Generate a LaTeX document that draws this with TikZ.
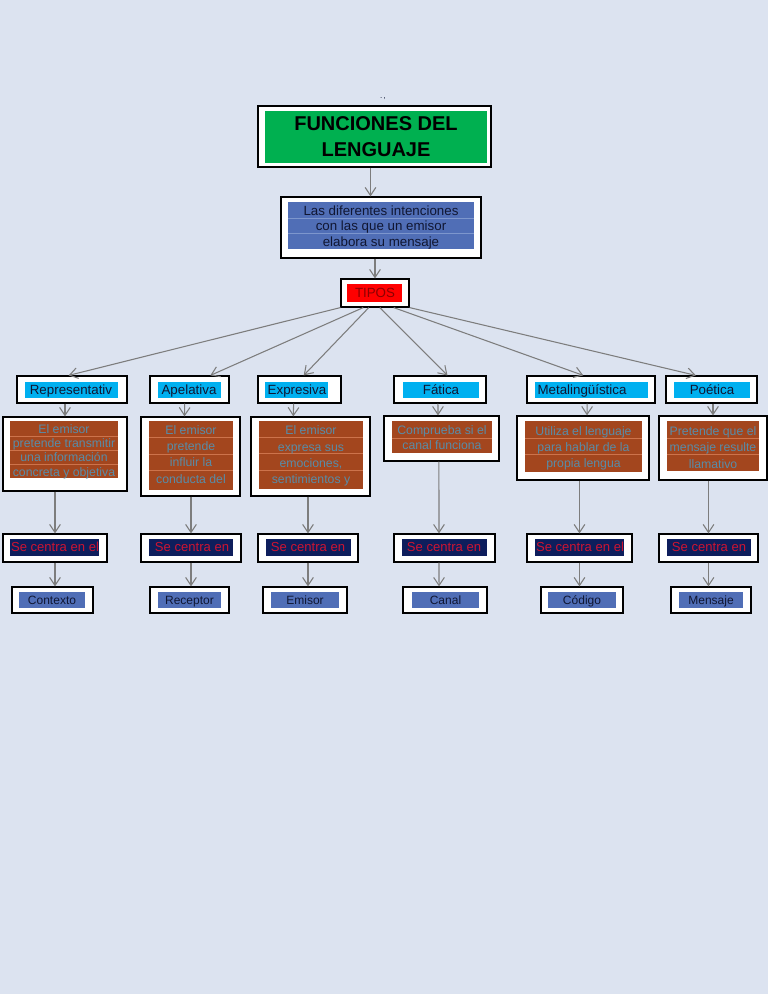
\documentclass[tikz,border=0pt]{standalone}
\usepackage{fontspec}
\setmainfont{Liberation Sans}
\usepackage{xcolor}
\usetikzlibrary{calc,fit,positioning,arrows.meta}

\definecolor{pagebg}{RGB}{220,227,240}
\definecolor{titlegreen}{RGB}{0,176,80}
\definecolor{softblue}{RGB}{80,110,182}
\definecolor{softbluesep}{RGB}{125,150,205}
\definecolor{tiposred}{RGB}{255,0,0}
\definecolor{tipostext}{RGB}{140,0,0}
\definecolor{typecyan}{RGB}{0,176,240}
\definecolor{darkink}{RGB}{16,22,50}
\definecolor{descbrown}{RGB}{163,70,30}
\definecolor{descsep}{RGB}{205,115,75}
\definecolor{desctext}{RGB}{88,140,168}
\definecolor{centranavy}{RGB}{14,30,92}
\definecolor{centrared}{RGB}{205,20,50}
\definecolor{arrowgrey}{RGB}{125,125,125}

\tikzset{
  frame/.style={draw=black,fill=white,line width=0.9pt,inner sep=0pt},
  fillbox/.style={inner sep=0pt},
  labeltext/.style={inner sep=0pt,align=center},
  oneline/.style={inner sep=0pt,text depth=0pt,text height=6.2pt},
  typetext/.style={oneline,text=darkink,font=\fontsize{10}{12}\selectfont},
  desctxt/.style={labeltext,text=desctext,font=\fontsize{9.2}{12.1}\selectfont},
  centratxt/.style={oneline,text height=6.3pt,text=centrared,font=\fontsize{9.8}{12}\selectfont},
  focustxt/.style={oneline,text height=7pt,text=darkink,font=\fontsize{9}{11}\selectfont},
  sepline/.style={draw=descsep,line width=0.5pt},
  arr/.style={draw=arrowgrey,line width=0.8pt,-{Straight Barb[length=6pt,width=8pt]}}
}

\begin{document}
\begin{tikzpicture}[x=0.75pt,y=0.75pt,yscale=-1,xscale=1]
\fill[pagebg] (0,0) rectangle (768,994);
\useasboundingbox (0,0) rectangle (768,994);

%Text: mark above the title
\node[font=\fontsize{6}{6}\selectfont,text=darkink] (mark) at (383,99) {.\,,};

%Shape: Rectangle -- title
\node[frame,fit={(258,106) (491,167)}] (title) {};
\node[fillbox,fill=titlegreen,fit={(265,111) (487,163)}] (titlein) {};
\node[labeltext,font=\fontsize{15}{19.5}\selectfont\bfseries] (titletxt) at (376,137) {FUNCIONES DEL\\LENGUAJE};

%Shape: Rectangle -- intenciones
\node[frame,fit={(281,197) (481,258)}] (intro) {};
\node[fillbox,fill=softblue,fit={(288,202) (474,249)}] (introin) {};
\foreach \y in {218,233} \draw[softbluesep,line width=0.5pt] (288,\y) -- (474,\y);
\node[labeltext,text=darkink,font=\fontsize{10}{11.6}\selectfont] (introtxt) at (381,227.5) {Las diferentes intenciones\\con las que un emisor\\elabora su mensaje};

%Shape: Rectangle -- tipos
\node[frame,fit={(341,279) (409,307)}] (tipos) {};
\node[fillbox,fill=tiposred,fit={(347,284) (402,302)}] (tiposin) {};
\node[oneline,text height=6.4pt,text=tipostext,font=\fontsize{10}{12}\selectfont] (tipostxt) at (375,293) {TIPOS};

%Shape: Rectangle -- types
\node[frame,fit={(17,376) (127,403)}] (repT) {};
\node[fillbox,fill=typecyan,fit={(25,382) (118,398)}] (repTin) {};
\node[typetext] (repTtxt) at (71,390) {Representativ};
\node[frame,fit={(150,376) (229,403)}] (apelT) {};
\node[fillbox,fill=typecyan,fit={(158,382) (221,398)}] (apelTin) {};
\node[typetext] (apelTtxt) at (189,390) {Apelativa};
\node[frame,fit={(258,376) (341,403)}] (exprT) {};
\node[fillbox,fill=typecyan,fit={(265,382) (328,398)}] (exprTin) {};
\node[typetext] (exprTtxt) at (297,390) {Expresiva};
\node[frame,fit={(394,376) (486,403)}] (fatT) {};
\node[fillbox,fill=typecyan,fit={(403,382) (479,398)}] (fatTin) {};
\node[typetext] (fatTtxt) at (441,390) {Fática};
\node[frame,fit={(527,376) (655,403)}] (metaT) {};
\node[fillbox,fill=typecyan,fit={(535,382) (648,398)}] (metaTin) {};
\node[typetext] (metaTtxt) at (582,390) {Metalingüística};
\node[frame,fit={(666,376) (757,403)}] (poetT) {};
\node[fillbox,fill=typecyan,fit={(674,382) (750,398)}] (poetTin) {};
\node[typetext] (poetTtxt) at (712,390) {Poética};

%Shape: Rectangle -- descriptions
\node[frame,fit={(3,417) (127,491)}] (repD) {};
\node[fillbox,fill=descbrown,fit={(10,421) (118,478)}] (repDin) {};
\foreach \y in {436,450,464} \draw[sepline] (10,\y) -- (118,\y);
\node[desctxt,font=\fontsize{9.2}{10.7}\selectfont] (repDtxt) at (64,451.5) {El emisor\\pretende transmitir\\una información\\concreta y objetiva};
\node[frame,fit={(141,417) (240,496)}] (apelD) {};
\node[fillbox,fill=descbrown,fit={(149,421) (233,490)}] (apelDin) {};
\foreach \y in {437,454,470} \draw[sepline] (149,\y) -- (233,\y);
\node[desctxt] (apelDtxt) at (191,454.5) {El emisor\\pretende\\influir la\\conducta del};
\node[frame,fit={(251,417) (370,496)}] (exprD) {};
\node[fillbox,fill=descbrown,fit={(259,421) (363,489)}] (exprDin) {};
\foreach \y in {437,453,470} \draw[sepline] (259,\y) -- (363,\y);
\node[desctxt] (exprDtxt) at (311,456) {El emisor\\expresa sus\\emociones,\\sentimientos y};
\node[frame,fit={(384,416) (499,461)}] (fatD) {};
\node[fillbox,fill=descbrown,fit={(392,421) (492,453)}] (fatDin) {};
\draw[sepline] (392,438) -- (492,438);
\node[desctxt,font=\fontsize{9.2}{11.3}\selectfont] (fatDtxt) at (442,438) {Comprueba si el\\canal funciona};
\node[frame,fit={(517,416) (649,480)}] (metaD) {};
\node[fillbox,fill=descbrown,fit={(525,421) (642,472)}] (metaDin) {};
\foreach \y in {438,454} \draw[sepline] (525,\y) -- (642,\y);
\node[desctxt] (metaDtxt) at (583.5,448.5) {Utiliza el lenguaje\\para hablar de la\\propia lengua};
\node[frame,fit={(659,416) (767,480)}] (poetD) {};
\node[fillbox,fill=descbrown,fit={(667,421) (759,471)}] (poetDin) {};
\foreach \y in {438,454} \draw[sepline] (667,\y) -- (759,\y);
\node[desctxt] (poetDtxt) at (713,447.5) {Pretende que el\\mensaje resulte\\llamativo};

%Shape: Rectangle -- se centra en
\node[frame,fit={(3,534) (107,562)}] (repC) {};
\node[fillbox,fill=centranavy,fit={(10,539) (99,556)}] (repCin) {};
\node[centratxt] (repCtxt) at (55,547.5) {Se centra en el};
\node[frame,fit={(141,534) (241,562)}] (apelC) {};
\node[fillbox,fill=centranavy,fit={(149,539) (233,556)}] (apelCin) {};
\node[centratxt] (apelCtxt) at (192,547.5) {Se centra en};
\node[frame,fit={(258,534) (358,562)}] (exprC) {};
\node[fillbox,fill=centranavy,fit={(266,539) (351,556)}] (exprCin) {};
\node[centratxt] (exprCtxt) at (308,547.5) {Se centra en};
\node[frame,fit={(394,534) (495,562)}] (fatC) {};
\node[fillbox,fill=centranavy,fit={(402,539) (487,556)}] (fatCin) {};
\node[centratxt] (fatCtxt) at (444,547.5) {Se centra en};
\node[frame,fit={(527,534) (632,562)}] (metaC) {};
\node[fillbox,fill=centranavy,fit={(535,539) (624,556)}] (metaCin) {};
\node[centratxt] (metaCtxt) at (580,547.5) {Se centra en el};
\node[frame,fit={(659,534) (758,562)}] (poetC) {};
\node[fillbox,fill=centranavy,fit={(667,539) (751,556)}] (poetCin) {};
\node[centratxt] (poetCtxt) at (709,547.5) {Se centra en};

%Shape: Rectangle -- elements
\node[frame,fit={(12,587) (93,613)}] (repF) {};
\node[fillbox,fill=softblue,fit={(19,592) (85,608)}] (repFin) {};
\node[focustxt] (repFtxt) at (52,600) {Contexto};
\node[frame,fit={(150,587) (229,613)}] (apelF) {};
\node[fillbox,fill=softblue,fit={(158,592) (221,608)}] (apelFin) {};
\node[focustxt] (apelFtxt) at (189.5,600) {Receptor};
\node[frame,fit={(263,587) (347,613)}] (exprF) {};
\node[fillbox,fill=softblue,fit={(271,592) (339,608)}] (exprFin) {};
\node[focustxt] (exprFtxt) at (305,600) {Emisor};
\node[frame,fit={(403,587) (487,613)}] (fatF) {};
\node[fillbox,fill=softblue,fit={(412,592) (479,608)}] (fatFin) {};
\node[focustxt] (fatFtxt) at (445.5,600) {Canal};
\node[frame,fit={(541,587) (623,613)}] (metaF) {};
\node[fillbox,fill=softblue,fit={(548,592) (616,608)}] (metaFin) {};
\node[focustxt] (metaFtxt) at (582,600) {Código};
\node[frame,fit={(671,587) (751,613)}] (poetF) {};
\node[fillbox,fill=softblue,fit={(679,592) (743,608)}] (poetFin) {};
\node[focustxt] (poetFtxt) at (711,600) {Mensaje};

%Straight Lines -- top
\coordinate (titleout) at ([xshift=-3pt]title.south);
\draw[arr] (titleout) -- (titleout |- intro.north);
\draw[arr] (intro.south -| tipos.north) -- (tipos.north);

%Straight Lines -- fan out of tipos
\draw[arr] (tipos.south west) -- ($(repT.north west)!0.47!(repT.north east)$);
\draw[arr] ($(tipos.south west)!0.33!(tipos.south east)$) -- ($(apelT.north west)!0.76!(apelT.north east)$);
\draw[arr] ($(tipos.south west)!0.41!(tipos.south east)$) -- ($(exprT.north west)!0.55!(exprT.north east)$);
\draw[arr] ($(tipos.south west)!0.57!(tipos.south east)$) -- ($(fatT.north west)!0.58!(fatT.north east)$);
\draw[arr] ($(tipos.south west)!0.77!(tipos.south east)$) -- ($(metaT.north west)!0.44!(metaT.north east)$);
\draw[arr] (tipos.south east) -- ($(poetT.north west)!0.33!(poetT.north east)$);

%Straight Lines -- type to description
\draw[arr] (repT.south -| repD.north) -- (repD.north);
\draw[arr] ($(apelT.south west)!0.44!(apelT.south east)$) -- ($(apelD.north west)!0.44!(apelD.north east)$);
\draw[arr] ($(exprT.south west)!0.43!(exprT.south east)$) -- ($(exprD.north west)!0.357!(exprD.north east)$);
\draw[arr] ($(fatT.south west)!0.478!(fatT.south east)$) -- ($(fatD.north west)!0.47!(fatD.north east)$);
\draw[arr] ($(metaT.south west)!0.47!(metaT.south east)$) -- ($(metaD.north west)!0.53!(metaD.north east)$);
\draw[arr] (poetT.south -| poetD.north) -- (poetD.north);

%Straight Lines -- description to se centra en
\draw[arr] (repD.south -| repC.north) -- (repC.north);
\draw[arr] (apelD.south -| apelC.north) -- (apelC.north);
\draw[arr] (exprD.south -| exprC.north) -- (exprC.north);
\draw[arr] ($(fatD.south west)!0.478!(fatD.south east)$) -- ($(fatC.north west)!0.446!(fatC.north east)$);
\draw[arr] (metaD.south -| metaC.north) -- (metaC.north);
\draw[arr] (poetD.south -| poetC.north) -- (poetC.north);

%Straight Lines -- se centra en to element
\draw[arr] (repC.south) -- (repC.south |- repF.north);
\draw[arr] (apelC.south) -- (apelC.south |- apelF.north);
\draw[arr] (exprC.south) -- (exprC.south |- exprF.north);
\draw[arr] ($(fatC.south west)!0.446!(fatC.south east)$) -- ($(fatF.north west)!0.43!(fatF.north east)$);
\draw[arr] (metaC.south) -- (metaC.south |- metaF.north);
\draw[arr] (poetC.south) -- (poetC.south |- poetF.north);

\end{tikzpicture}
\end{document}
